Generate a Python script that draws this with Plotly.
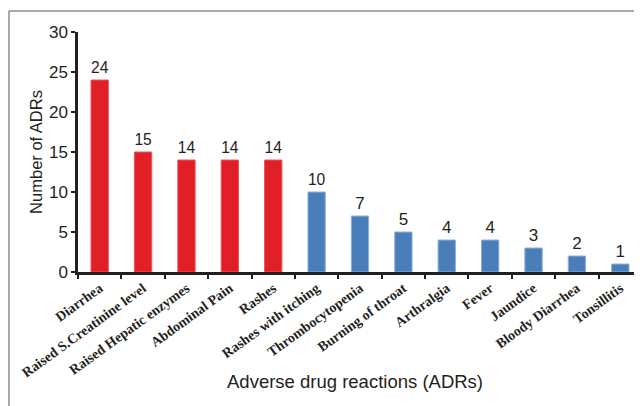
import plotly.graph_objects as go

categories = ["Diarrhea", "Raised S.Creatinine level", "Raised Hepatic enzymes",
              "Abdominal Pain", "Rashes", "Rashes with itching", "Thrombocytopenia",
              "Burning of throat", "Arthralgia", "Fever", "Jaundice",
              "Bloody Diarrhea", "Tonsillitis"]
values = [24, 15, 14, 14, 14, 10, 7, 5, 4, 4, 3, 2, 1]
groups = ["high"] * 5 + ["low"] * 8
y_ticks = [0, 5, 10, 15, 20, 25, 30]

RED = "#e21f26"
BLUE = "#4a7ebb"
colors = [RED if g == "high" else BLUE for g in groups]
lines = ["#e8585d" if g == "high" else "#8fb1dc" for g in groups]

# the page body adds an 8px offset at the top-left
OFF = 8
W, H = 642 - OFF, 406 - OFF
L, T = 78 - OFF, 32 - OFF
R, B = 0, H - (272 - OFF)

fig = go.Figure(go.Bar(
    x=categories, y=values,
    marker=dict(color=colors, line=dict(color=lines, width=1)),
    text=[str(v) for v in values], textposition="outside",
    textfont=dict(family="Arial, Liberation Sans", size=17, color="#231f20"),
    cliponaxis=False,
))

pw, ph = W - L - R, H - T - B
def px_x(p):  # page pixel -> paper coordinate
    return (p - OFF - L) / pw
def px_y(p):
    return (H - B - (p - OFF)) / ph

fig.update_layout(
    width=W, height=H,
    margin=dict(l=L, r=R, t=T, b=B, autoexpand=False),
    paper_bgcolor="white", plot_bgcolor="white",
    bargap=0.6, showlegend=False,
    font=dict(family="Arial, Liberation Sans", color="#231f20"),
    xaxis=dict(
        tickangle=-36, tickson="boundaries", ticks="outside", ticklen=4,
        tickwidth=2, tickcolor="#231f20",
        tickfont=dict(family="Liberation Serif, Times New Roman", size=14, color="#231f20", weight="bold"),
        showline=True, linecolor="#231f20", linewidth=2.5, showgrid=False,
        automargin=False,
    ),
    yaxis=dict(
        range=[0, 30], autorange=False, tickvals=y_ticks, ticks="outside", ticklen=4, tickwidth=2,
        tickcolor="#231f20", tickfont=dict(size=17, color="#231f20"),
        showline=True, linecolor="#231f20", linewidth=2.5, showgrid=False,
        zeroline=False, automargin=False,
        title=dict(text="Number of ADRs",
                   font=dict(family="Arial, Liberation Sans", size=16.5, color="#231f20"),
                   standoff=3),
    ),
    annotations=[
        dict(text="Adverse drug reactions (ADRs)", xref="paper", yref="paper",
             x=px_x(355), y=px_y(381), xanchor="center", yanchor="middle",
             showarrow=False,
             font=dict(family="Arial, Liberation Sans", size=18.5, color="#231f20")),
    ],
    shapes=[
        dict(type="line", xref="paper", yref="paper", x0=px_x(9), x1=px_x(660),
             y0=px_y(11), y1=px_y(11), line=dict(color="#8c8c8c", width=1.5)),
        dict(type="line", xref="paper", yref="paper", x0=px_x(9), x1=px_x(9),
             y0=px_y(11), y1=px_y(420), line=dict(color="#8c8c8c", width=1.5)),
    ],
)

fig.write_html("out.html")
